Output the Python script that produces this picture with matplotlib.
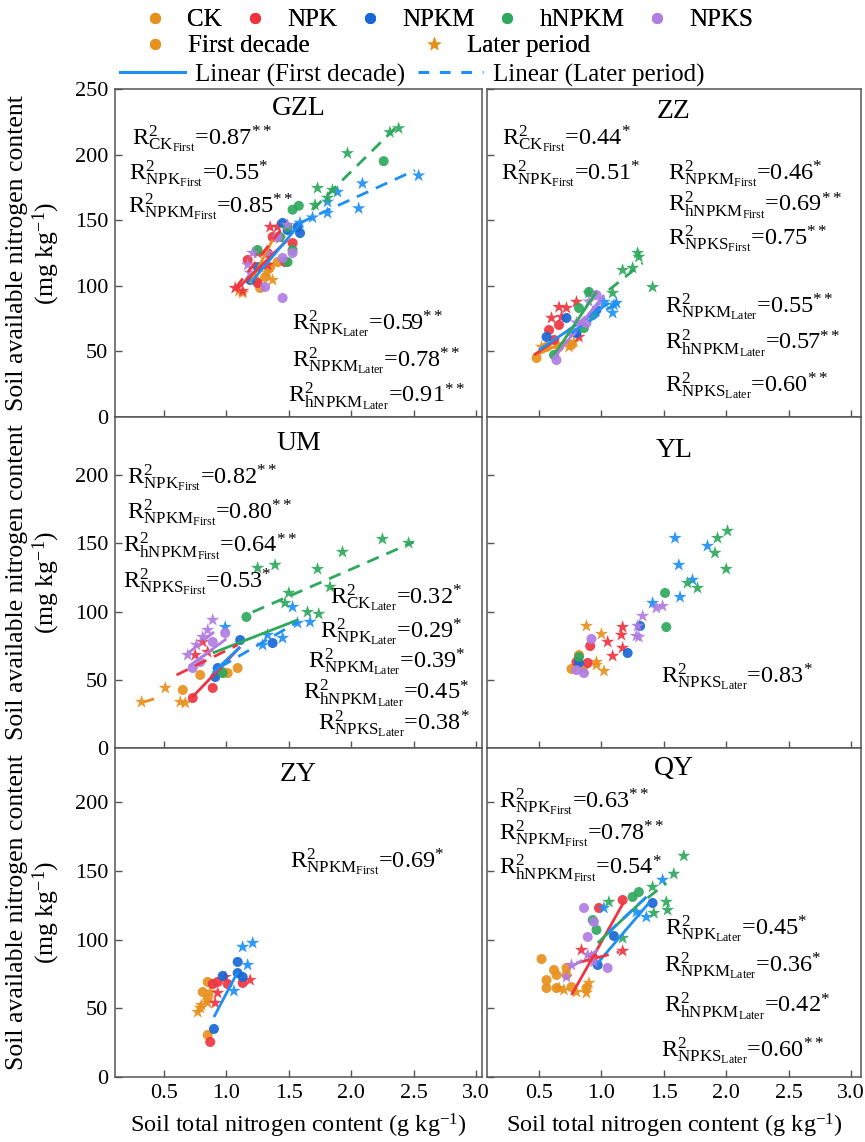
import matplotlib
matplotlib.use("Agg")
import matplotlib.pyplot as plt
from matplotlib.lines import Line2D

plt.rcParams['font.family'] = 'Liberation Serif'
plt.rcParams['mathtext.fontset'] = 'custom'
plt.rcParams['mathtext.rm'] = 'Liberation Serif'
plt.rcParams['mathtext.it'] = 'Liberation Serif:italic'
plt.rcParams['mathtext.bf'] = 'Liberation Serif:bold'

# ---------------- data ----------------
TREATMENTS = ["CK", "NPK", "NPKM", "hNPKM", "NPKS"]
SITES = ["GZL", "ZZ", "UM", "YL", "ZY", "QY"]

# (treatment, period F=first decade / L=later period, total N, available N)
GZL_POINTS = [
    ("CK", "F", 1.31, 106.7), ("CK", "F", 1.35, 114.3), ("CK", "F", 1.23, 104.4), ("CK", "F", 1.41, 118.1),
    ("CK", "F", 1.27, 98.3),
    ("CK", "L", 1.13, 94.5), ("CK", "L", 1.37, 104.4), ("CK", "L", 1.33, 109.8), ("CK", "L", 1.33, 113.6),
    ("CK", "L", 1.10, 96.0),
    ("NPK", "F", 1.17, 119.7), ("NPK", "F", 1.37, 137.2), ("NPK", "F", 1.53, 132.6), ("NPK", "F", 1.25, 102.1),
    ("NPK", "F", 1.33, 125.0), ("NPK", "F", 1.47, 118.1),
    ("NPK", "L", 1.07, 98.3), ("NPK", "L", 1.13, 96.0), ("NPK", "L", 1.35, 144.8), ("NPK", "L", 1.41, 144.8),
    ("NPK", "L", 1.25, 125.0), ("NPK", "L", 1.33, 115.9), ("NPK", "L", 1.43, 136.4),
    ("NPKM", "F", 1.45, 147.9), ("NPKM", "F", 1.57, 144.8), ("NPKM", "F", 1.59, 140.2), ("NPKM", "F", 1.49, 142.5),
    ("NPKM", "F", 1.25, 114.3), ("NPKM", "F", 1.19, 104.4),
    ("NPKM", "L", 2.54, 184.0), ("NPKM", "L", 2.09, 178.0), ("NPKM", "L", 2.06, 159.0), ("NPKM", "L", 1.81, 164.0),
    ("NPKM", "L", 1.81, 155.5), ("NPKM", "L", 1.89, 171.5), ("NPKM", "L", 1.69, 152.0), ("NPKM", "L", 1.59, 148.0),
    ("hNPKM", "F", 1.25, 127.3), ("hNPKM", "F", 1.49, 144.8), ("hNPKM", "F", 1.49, 118.1), ("hNPKM", "F", 1.43, 137.2),
    ("hNPKM", "F", 1.53, 127.3), ("hNPKM", "F", 1.53, 158.0), ("hNPKM", "F", 1.58, 161.0), ("hNPKM", "F", 2.26, 195.0),
    ("hNPKM", "L", 2.31, 217.0), ("hNPKM", "L", 2.38, 220.0), ("hNPKM", "L", 1.97, 201.0), ("hNPKM", "L", 1.73, 174.5),
    ("hNPKM", "L", 1.85, 173.0), ("hNPKM", "L", 1.71, 161.6), ("hNPKM", "L", 1.81, 167.0),
    ("NPKS", "F", 1.31, 99.1), ("NPKS", "F", 1.45, 90.7), ("NPKS", "F", 1.41, 137.2), ("NPKS", "F", 1.53, 125.0),
    ("NPKS", "F", 1.45, 121.2),
    ("NPKS", "L", 1.17, 115.9), ("NPKS", "L", 1.21, 125.0), ("NPKS", "L", 1.33, 125.0), ("NPKS", "L", 1.49, 146.3),
    ("NPKS", "L", 1.19, 109.8),
]
# (treatment, period, x0, y0, x1, y1)
GZL_LINES = [
    ("CK", "F", 1.19, 102, 1.37, 135), ("NPK", "F", 1.09, 98, 1.49, 135), ("NPKM", "F", 1.20, 103, 1.57, 145),
    ("NPK", "L", 1.07, 98, 1.43, 142), ("NPKM", "L", 1.59, 148, 2.51, 188), ("hNPKM", "L", 1.69, 158, 2.35, 220),
]
GZL_R2 = [("CK", "First", "0.87", "**"), ("NPK", "First", "0.55", "*"), ("NPKM", "First", "0.85", "**"),
          ("NPK", "Later", "0.59", "**"), ("NPKM", "Later", "0.78", "**"), ("hNPKM", "Later", "0.91", "**")]

ZZ_POINTS = [
    ("CK", "F", 0.48, 45.0), ("CK", "F", 0.56, 53.4), ("CK", "F", 0.66, 53.4), ("CK", "F", 0.76, 54.9),
    ("CK", "L", 0.74, 53.4), ("CK", "L", 0.78, 57.2), ("CK", "L", 0.52, 53.4),
    ("NPK", "F", 0.58, 66.3), ("NPK", "F", 0.66, 70.1), ("NPK", "F", 0.62, 58.7),
    ("NPK", "L", 0.66, 83.8), ("NPK", "L", 0.80, 87.7), ("NPK", "L", 0.60, 75.5), ("NPK", "L", 0.68, 76.2),
    ("NPK", "L", 0.82, 61.0), ("NPK", "L", 0.72, 83.1),
    ("NPKM", "F", 0.72, 75.5), ("NPKM", "F", 0.96, 81.6), ("NPKM", "F", 0.56, 61.0), ("NPKM", "F", 0.80, 64.0),
    ("NPKM", "L", 1.12, 86.9), ("NPKM", "L", 1.09, 79.3), ("NPKM", "L", 1.02, 87.7), ("NPKM", "L", 1.10, 85.4),
    ("hNPKM", "F", 0.90, 95.3), ("hNPKM", "F", 0.82, 83.1), ("hNPKM", "F", 0.93, 77.7), ("hNPKM", "F", 0.62, 47.3),
    ("hNPKM", "F", 0.86, 67.8),
    ("hNPKM", "L", 1.29, 125.0), ("hNPKM", "L", 1.30, 122.0), ("hNPKM", "L", 1.17, 112.0), ("hNPKM", "L", 1.25, 113.6),
    ("hNPKM", "L", 1.41, 99.0), ("hNPKM", "L", 1.09, 94.5), ("hNPKM", "L", 0.90, 94.5),
    ("NPKS", "F", 0.64, 43.4), ("NPKS", "F", 0.96, 93.0), ("NPKS", "F", 0.88, 71.6), ("NPKS", "F", 0.76, 64.8),
    ("NPKS", "L", 0.90, 88.0), ("NPKS", "L", 0.80, 72.0),
]
ZZ_LINES = [
    ("CK", "F", 0.48, 47.3, 0.74, 58.7), ("NPK", "F", 0.46, 47.3, 0.66, 60.2), ("NPKM", "F", 0.50, 51.1, 1.06, 86.9),
    ("hNPKM", "F", 0.62, 47.3, 0.96, 95.3), ("NPKS", "F", 0.62, 45.0, 1.02, 93.0),
    ("NPKM", "L", 0.76, 64.0, 1.12, 86.9), ("hNPKM", "L", 1.06, 96.8, 1.33, 117.4), ("NPKS", "L", 0.80, 70.0, 1.00, 88.0),
]
ZZ_R2 = [("CK", "First", "0.44", "*"), ("NPK", "First", "0.51", "*"), ("NPKM", "First", "0.46", "*"),
         ("hNPKM", "First", "0.69", "**"), ("NPKS", "First", "0.75", "**"), ("NPKM", "Later", "0.55", "**"),
         ("hNPKM", "Later", "0.57", "**"), ("NPKS", "Later", "0.60", "**")]

UM_POINTS = [
    ("CK", "F", 0.65, 42.5), ("CK", "F", 0.79, 53.5), ("CK", "F", 0.97, 55.7), ("CK", "F", 1.09, 58.6),
    ("CK", "F", 1.01, 54.9),
    ("CK", "L", 0.32, 33.7), ("CK", "L", 0.51, 44.0), ("CK", "L", 0.63, 33.7), ("CK", "L", 0.67, 33.0),
    ("NPK", "F", 0.73, 36.6), ("NPK", "F", 0.89, 44.0),
    ("NPK", "L", 0.81, 77.7), ("NPK", "L", 0.85, 70.3), ("NPK", "L", 0.75, 68.1),
    ("NPKM", "F", 1.37, 76.9), ("NPKM", "F", 1.11, 79.1), ("NPKM", "F", 0.91, 52.0), ("NPKM", "F", 0.93, 58.6),
    ("NPKM", "L", 1.53, 103.3), ("NPKM", "L", 1.67, 92.3), ("NPKM", "L", 1.33, 82.8), ("NPKM", "L", 1.45, 80.6),
    ("NPKM", "L", 1.29, 75.5), ("NPKM", "L", 0.99, 88.6), ("NPKM", "L", 1.57, 91.6),
    ("hNPKM", "F", 1.16, 96.0), ("hNPKM", "F", 0.97, 54.9),
    ("hNPKM", "L", 2.25, 153.1), ("hNPKM", "L", 2.46, 150.2), ("hNPKM", "L", 1.93, 143.6), ("hNPKM", "L", 1.73, 131.1),
    ("hNPKM", "L", 1.39, 134.1), ("hNPKM", "L", 1.25, 131.9), ("hNPKM", "L", 1.83, 118.0), ("hNPKM", "L", 1.50, 113.6),
    ("hNPKM", "L", 1.47, 106.2), ("hNPKM", "L", 1.74, 98.2), ("hNPKM", "L", 1.65, 99.6),
    ("NPKS", "F", 0.89, 77.7), ("NPKS", "F", 0.99, 84.2), ("NPKS", "F", 0.73, 58.6), ("NPKS", "F", 0.79, 63.0),
    ("NPKS", "L", 0.89, 93.8), ("NPKS", "L", 0.81, 81.3), ("NPKS", "L", 0.69, 68.1), ("NPKS", "L", 0.76, 75.5),
    ("NPKS", "L", 0.85, 86.4),
]
UM_LINES = [
    ("NPK", "F", 0.72, 36.6, 1.11, 74.0), ("NPKM", "F", 0.89, 55.0, 1.11, 74.0), ("hNPKM", "F", 0.89, 69.6, 1.57, 93.8),
    ("NPKS", "F", 0.70, 60.0, 1.00, 80.0),
    ("CK", "L", 0.34, 33.7, 0.42, 36.0), ("NPK", "L", 0.60, 53.5, 1.09, 75.5), ("NPKM", "L", 0.95, 59.3, 1.57, 92.3),
    ("hNPKM", "L", 1.21, 99.6, 2.50, 150.9), ("NPKS", "L", 0.70, 70.0, 0.90, 85.0),
]
UM_R2 = [("NPK", "First", "0.82", "**"), ("NPKM", "First", "0.80", "**"), ("hNPKM", "First", "0.64", "**"),
         ("NPKS", "First", "0.53", "*"), ("CK", "Later", "0.32", "*"), ("NPK", "Later", "0.29", "*"),
         ("NPKM", "Later", "0.39", "*"), ("hNPKM", "Later", "0.45", "*"), ("NPKS", "Later", "0.38", "*")]

YL_POINTS = [
    ("CK", "F", 0.76, 57.9), ("CK", "F", 0.82, 68.1),
    ("CK", "L", 0.88, 89.4), ("CK", "L", 1.00, 83.5), ("CK", "L", 0.96, 63.0), ("CK", "L", 0.96, 60.8),
    ("CK", "L", 1.02, 56.4), ("CK", "L", 0.86, 57.9),
    ("NPK", "F", 0.91, 74.7), ("NPK", "F", 0.89, 62.3), ("NPK", "F", 0.80, 63.0),
    ("NPK", "L", 1.17, 88.6), ("NPK", "L", 1.16, 82.8), ("NPK", "L", 1.05, 77.7), ("NPK", "L", 1.17, 73.3),
    ("NPK", "L", 1.09, 67.4),
    ("NPKM", "F", 1.31, 89.4), ("NPKM", "F", 1.21, 69.6), ("NPKM", "F", 0.82, 62.3),
    ("NPKM", "L", 1.59, 153.8), ("NPKM", "L", 1.62, 134.1), ("NPKM", "L", 1.85, 148.0), ("NPKM", "L", 1.73, 123.1),
    ("NPKM", "L", 1.63, 110.6), ("NPKM", "L", 1.41, 106.2),
    ("hNPKM", "F", 1.51, 113.6), ("hNPKM", "F", 1.52, 88.6), ("hNPKM", "F", 0.82, 66.7),
    ("hNPKM", "L", 2.01, 159.0), ("hNPKM", "L", 1.93, 153.8), ("hNPKM", "L", 1.91, 142.9), ("hNPKM", "L", 2.00, 131.1),
    ("hNPKM", "L", 1.69, 120.9), ("hNPKM", "L", 1.77, 117.2),
    ("NPKS", "F", 0.92, 79.9), ("NPKS", "F", 0.80, 57.1), ("NPKS", "F", 0.86, 54.9),
    ("NPKS", "L", 1.49, 104.0), ("NPKS", "L", 1.44, 102.6), ("NPKS", "L", 1.33, 96.7), ("NPKS", "L", 1.29, 89.4),
    ("NPKS", "L", 1.28, 82.1), ("NPKS", "L", 1.30, 81.3),
]
YL_LINES = []
YL_R2 = [("NPKS", "Later", "0.83", "*")]

ZY_POINTS = [
    ("CK", "F", 0.85, 30.6), ("CK", "F", 0.85, 69.2), ("CK", "F", 0.81, 61.9), ("CK", "F", 0.85, 57.5),
    ("CK", "L", 0.77, 47.3), ("CK", "L", 0.80, 52.4), ("CK", "L", 0.85, 53.9), ("CK", "L", 0.87, 61.9),
    ("CK", "L", 0.79, 50.3),
    ("NPK", "F", 0.87, 25.5), ("NPK", "F", 0.89, 67.7), ("NPK", "F", 0.93, 69.2), ("NPK", "F", 1.13, 68.5),
    ("NPK", "F", 1.01, 67.7),
    ("NPK", "L", 1.19, 70.6), ("NPK", "L", 0.93, 61.2), ("NPK", "L", 0.91, 53.9), ("NPK", "L", 0.99, 72.8),
    ("NPKM", "F", 1.09, 83.8), ("NPKM", "F", 0.97, 73.6), ("NPKM", "F", 1.09, 75.7), ("NPKM", "F", 1.13, 72.8),
    ("NPKM", "F", 0.90, 35.0),
    ("NPKM", "L", 1.13, 94.7), ("NPKM", "L", 1.21, 97.6), ("NPKM", "L", 1.17, 81.6), ("NPKM", "L", 1.06, 62.6),
]
ZY_LINES = [("NPKM", "F", 0.90, 43.7, 1.09, 76.5)]
ZY_R2 = [("NPKM", "First", "0.69", "*")]

QY_POINTS = [
    ("CK", "F", 0.52, 85.9), ("CK", "F", 0.62, 77.9), ("CK", "F", 0.56, 70.6), ("CK", "F", 0.72, 74.3),
    ("CK", "F", 0.56, 64.8), ("CK", "F", 0.64, 64.8), ("CK", "F", 0.76, 65.5), ("CK", "F", 0.88, 64.8),
    ("CK", "F", 0.72, 79.4), ("CK", "F", 0.64, 74.3),
    ("CK", "L", 0.70, 63.4), ("CK", "L", 0.80, 61.9), ("CK", "L", 0.90, 68.5), ("CK", "L", 0.88, 61.2),
    ("CK", "L", 0.66, 64.8),
    ("NPK", "F", 1.17, 128.9), ("NPK", "F", 0.98, 123.1), ("NPK", "F", 0.93, 87.4),
    ("NPK", "L", 1.17, 91.8), ("NPK", "L", 0.84, 92.5), ("NPK", "L", 0.92, 87.4),
    ("NPKM", "F", 1.41, 126.7), ("NPKM", "F", 0.97, 81.6), ("NPKM", "F", 1.10, 102.7),
    ("NPKM", "L", 1.49, 143.5), ("NPKM", "L", 1.36, 116.5), ("NPKM", "L", 1.02, 123.1), ("NPKM", "L", 1.28, 120.2),
    ("hNPKM", "F", 1.30, 134.7), ("hNPKM", "F", 1.25, 131.1), ("hNPKM", "F", 0.96, 107.1), ("hNPKM", "F", 0.93, 114.3),
    ("hNPKM", "L", 1.66, 161.0), ("hNPKM", "L", 1.58, 147.9), ("hNPKM", "L", 1.52, 127.5), ("hNPKM", "L", 1.53, 121.6),
    ("hNPKM", "L", 1.41, 138.4), ("hNPKM", "L", 1.42, 119.4), ("hNPKM", "L", 1.06, 127.5), ("hNPKM", "L", 1.17, 101.2),
    ("NPKS", "F", 0.94, 112.9), ("NPKS", "F", 0.89, 102.0), ("NPKS", "F", 1.05, 79.4), ("NPKS", "F", 0.86, 123.1),
    ("NPKS", "L", 0.76, 81.6), ("NPKS", "L", 0.89, 88.9), ("NPKS", "L", 0.94, 83.8), ("NPKS", "L", 0.72, 72.8),
]
QY_LINES = [
    ("NPK", "F", 0.76, 59.7, 1.18, 127.5), ("hNPKM", "F", 0.97, 97.6, 1.36, 131.1), ("NPKM", "F", 0.97, 83.0, 1.38, 126.7),
    ("NPK", "L", 0.80, 83.0, 1.14, 91.0), ("NPKM", "L", 1.05, 104.9, 1.36, 131.1), ("hNPKM", "L", 1.37, 130.4, 1.52, 141.3),
    ("NPKS", "L", 0.76, 80.1, 0.97, 92.5),
]
QY_R2 = [("NPK", "First", "0.63", "**"), ("NPKM", "First", "0.78", "**"), ("hNPKM", "First", "0.54", "*"),
         ("NPK", "Later", "0.45", "*"), ("NPKM", "Later", "0.36", "*"), ("hNPKM", "Later", "0.42", "*"),
         ("NPKS", "Later", "0.60", "**")]

# ---------------- layout / styles ----------------
COLORS = {"CK": "#E8901C", "NPK": "#EF3440", "NPKM": "#1767D6", "hNPKM": "#2EA85C", "NPKS": "#B07DE2"}
STAR_COLORS = dict(COLORS, NPKM="#1E8FF5")
LINE_COLORS = dict(COLORS, NPKM="#1E8FF5")

# annotation anchor positions (axes fraction, baseline of "R")
R2_POS = {
    "GZL": [(0.046, 0.829), (0.038, 0.723), (0.035, 0.622), (0.482, 0.265), (0.482, 0.152), (0.471, 0.043)],
    "ZZ": [(0.040, 0.829), (0.038, 0.723), (0.485, 0.723), (0.485, 0.625), (0.485, 0.524),
           (0.477, 0.317), (0.477, 0.204), (0.477, 0.076)],
    "UM": [(0.033, 0.798), (0.033, 0.693), (0.022, 0.590), (0.022, 0.485), (0.586, 0.437),
           (0.559, 0.334), (0.526, 0.244), (0.512, 0.145), (0.553, 0.054)],
    "YL": [(0.464, 0.196)],
    "ZY": [(0.477, 0.635)],
    "QY": [(0.032, 0.818), (0.032, 0.720), (0.032, 0.614), (0.477, 0.432), (0.472, 0.319),
           (0.472, 0.195), (0.464, 0.061)],
}
TITLE_Y = {"GZL": 0.94, "ZZ": 0.93, "UM": 0.919, "YL": 0.898, "ZY": 0.918, "QY": 0.939}

W, H = 865, 1142
COL_X = [(115, 482), (487, 861)]
ROW_Y = [(89, 417), (417, 748), (748, 1077)]
XLIMS = [(0.107, 3.048), (0.083, 3.08)]
YLIMS = [250, 242.5, 239.6]

DATA = {
    "GZL": (GZL_POINTS, GZL_LINES, GZL_R2), "ZZ": (ZZ_POINTS, ZZ_LINES, ZZ_R2),
    "UM": (UM_POINTS, UM_LINES, UM_R2), "YL": (YL_POINTS, YL_LINES, YL_R2),
    "ZY": (ZY_POINTS, ZY_LINES, ZY_R2), "QY": (QY_POINTS, QY_LINES, QY_R2),
}

TICK_FS = 16
R2_FS = 17.5
TITLE_FS = 20
LABEL_FS = 18.5

fig = plt.figure(figsize=(W / 100, H / 100), dpi=100)

for i, site in enumerate(SITES):
    row, col = divmod(i, 2)
    x0, x1 = COL_X[col]
    ytop, ybot = ROW_Y[row]
    ax = fig.add_axes([x0 / W, 1 - ybot / H, (x1 - x0) / W, (ybot - ytop) / H])
    points, lines, r2 = DATA[site]

    for trt in TREATMENTS:
        fx = [p[2] for p in points if p[0] == trt and p[1] == "F"]
        fy = [p[3] for p in points if p[0] == trt and p[1] == "F"]
        lx = [p[2] for p in points if p[0] == trt and p[1] == "L"]
        ly = [p[3] for p in points if p[0] == trt and p[1] == "L"]
        ax.scatter(fx, fy, s=52, marker="o", color=COLORS[trt], edgecolors="none", alpha=0.92, zorder=2)
        ax.scatter(lx, ly, s=100, marker="*", color=STAR_COLORS[trt], edgecolors="none", alpha=0.92, zorder=2)

    for trt, per, xa, ya, xb, yb in lines:
        ls = "-" if per == "F" else (0, (4.5, 3))
        ax.plot([xa, xb], [ya, yb], color=LINE_COLORS[trt], lw=2.0, ls=ls, zorder=3,
                solid_capstyle="butt", dash_capstyle="butt")

    for (trt, per, val, sig), (px, py) in zip(r2, R2_POS[site]):
        s = r"$\mathrm{R^2_{%s_{%s}}}$=%s$^{%s}$" % (trt, per, val, sig)
        ax.text(px, py, s, transform=ax.transAxes, fontsize=R2_FS, ha="left", va="baseline", zorder=4)

    ax.text(0.5, TITLE_Y[site], site, transform=ax.transAxes, fontsize=TITLE_FS, ha="center", va="center")

    ax.set_xlim(*XLIMS[col])
    ax.set_ylim(0, YLIMS[row])
    ax.set_xticks([0.5, 1.0, 1.5, 2.0, 2.5, 3.0])
    ax.set_yticks([0, 50, 100, 150, 200, 250] if row == 0 else [0, 50, 100, 150, 200])
    ax.tick_params(direction="in", length=5, width=1.0, labelsize=TICK_FS, color="#555555", pad=5)
    if col == 1:
        ax.tick_params(labelleft=False)
    else:
        ax.set_ylabel("Soil available nitrogen content\n(mg kg$^{-1}$)", fontsize=LABEL_FS, linespacing=1.1)
        ax.yaxis.set_label_coords(-0.145, 0.5)
    if row < 2:
        ax.tick_params(labelbottom=False)
    else:
        ax.set_xticklabels(["0.5", "1.0", "1.5", "2.0", "2.5", "3.0"])
        ax.set_xlabel("Soil total nitrogen content (g kg$^{-1}$)", fontsize=17.5)
        ax.xaxis.set_label_coords(0.5, -0.107)
        ax.xaxis.label.set_va("top")
    for sp in ax.spines.values():
        sp.set_color("#555555")
        sp.set_linewidth(1.1)

# ---------------- legend ----------------
h1 = [Line2D([], [], ls="none", marker="o", ms=8, color=COLORS[t], mec="none") for t in TREATMENTS]
leg1 = fig.legend(h1, TREATMENTS, ncol=5, loc="center left", bbox_to_anchor=(145 / W, 1 - 20 / H),
                  frameon=False, fontsize=18, handlelength=0.8, handletextpad=0.9, columnspacing=0.9,
                  borderpad=0, borderaxespad=0)
h2 = [Line2D([], [], ls="none", marker="o", ms=8, color=COLORS["CK"], mec="none"),
      Line2D([], [], ls="none", marker="*", ms=11, color=COLORS["CK"], mec="none")]
leg2 = fig.legend(h2, ["First decade", "Later period"], ncol=2, loc="center left",
                  bbox_to_anchor=(145 / W, 1 - 46 / H), frameon=False, fontsize=18, handlelength=0.8,
                  handletextpad=0.9, columnspacing=4.6, borderpad=0, borderaxespad=0)
h3 = [Line2D([], [], color="#1E8FF5", lw=2.2), Line2D([], [], color="#1E8FF5", lw=2.2, ls=(0, (3.5, 3.5)))]
leg3 = fig.legend(h3, ["Linear (First decade)", "Linear (Later period)"], ncol=2, loc="center left",
                  bbox_to_anchor=(120 / W, 1 - 75 / H), frameon=False, fontsize=18, handlelength=2.6,
                  handletextpad=0.4, columnspacing=0.5, borderpad=0, borderaxespad=0)
fig.add_artist(leg1)
fig.add_artist(leg2)

fig.savefig("out.png", dpi=100)
